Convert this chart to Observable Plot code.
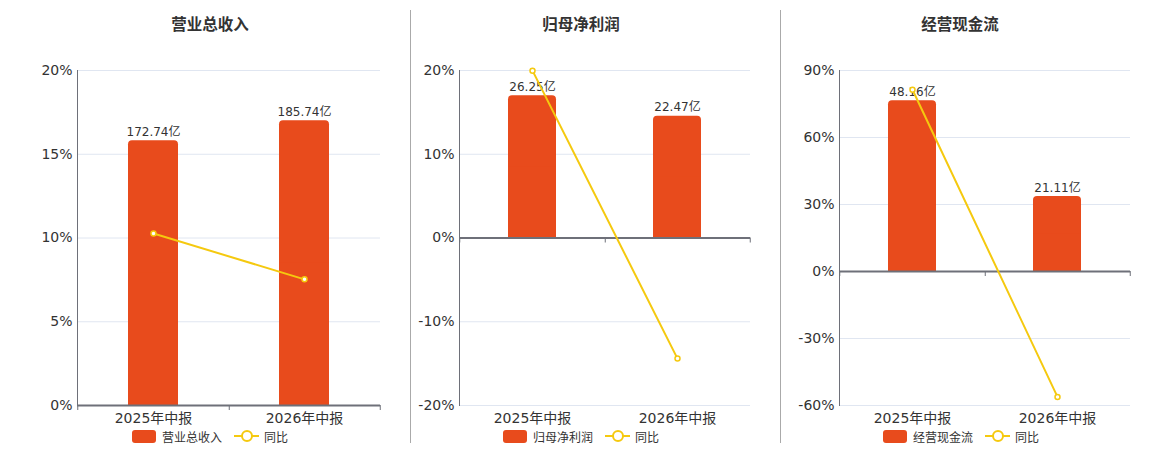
<!DOCTYPE html>
<html>
<head>
<meta charset="utf-8">
<script src="https://cdn.jsdelivr.net/npm/d3@7"></script>
<script src="https://cdn.jsdelivr.net/npm/@observablehq/plot@0.6"></script>
<style>
  html, body { margin: 0; padding: 0; background: #fff; }
  #root { position: relative; width: 1160px; height: 450px; overflow: hidden;
          font-family: "DejaVu Sans", "Noto Sans CJK SC", sans-serif; color: #333; }
  .title { position: absolute; top: 13px; font-weight: bold; font-size: 15.5px; line-height: 20px;
           color: #333; transform: translateX(-50%); white-space: nowrap; font-family: "Noto Sans CJK SC", sans-serif; }
  .sep { position: absolute; top: 10px; width: 1px; height: 433px; background: #aaa; }
  .panel { position: absolute; top: 50px; }
  .legend { position: absolute; top: 428px; height: 16px; display: flex; align-items: center;
            font-size: 12px; color: #333; white-space: nowrap; }
  .sw { width: 24px; height: 13px; border-radius: 3px; background: #E84B1C; margin-right: 6px; }
  .li { position: relative; width: 25px; height: 14px; margin-left: 12px; margin-right: 5px; }
  .li .ln { position: absolute; left: 0; right: 0; top: 6px; height: 2px; background: #F5C90F; }
  .li .ci { position: absolute; left: 6.5px; top: 1px; width: 8px; height: 8px; border: 2px solid #F5C90F;
            border-radius: 50%; background: #fff; }
</style>
</head>
<body>
<div id="root"></div>
<script>
// ---- data ----
const categories = ["2025年中报", "2026年中报"];
const titles = ["营业总收入", "归母净利润", "经营现金流"];
const revenue = [172.74, 185.74];
const revenueYoY = [10.27, 7.53];
const netProfit = [26.25, 22.47];
const netProfitYoY = [19.98, -14.40];
const cashFlow = [48.16, 21.11];
const cashFlowYoY = [81.4, -56.17];
const ticks1 = [0, 5, 10, 15, 20];
const ticks2 = [-20, -10, 0, 10, 20];
const ticks3 = [-60, -30, 0, 30, 60, 90];
const yoyLabel = "同比";

// ---- layout ----
const BAR = "#E84B1C", LINE = "#F5C90F", AXIS = "#6E7079", GRID = "#E0E6F1";
const panels = [
  {title: titles[0], bars: revenue, yoy: revenueYoY, ticks: ticks1, left: 0, width: 410, ml: 77, mr: 30, tx: 210, lx: 132},
  {title: titles[1], bars: netProfit, yoy: netProfitYoY, ticks: ticks2, left: 410, width: 370, ml: 49, mr: 30, tx: 581, lx: 503},
  {title: titles[2], bars: cashFlow, yoy: cashFlowYoY, ticks: ticks3, left: 780, width: 380, ml: 59, mr: 30, tx: 960, lx: 883}
];

const root = document.getElementById("root");
[410.5, 780.5].forEach(x => {
  const s = document.createElement("div"); s.className = "sep"; s.style.left = (x - 0.5) + "px"; root.appendChild(s);
});

panels.forEach(p => {
  const t = document.createElement("div"); t.className = "title"; t.style.left = p.tx + "px"; t.textContent = p.title;
  root.appendChild(t);

  const yMin = p.ticks[0], yMax = p.ticks[p.ticks.length - 1];
  // bars use a hidden secondary axis whose maximum is maxBar / 0.85, mapped onto the percent axis
  const hiddenMax = Math.max(...p.bars) / 0.85;
  const rows = categories.map((c, i) => ({cat: c, v: p.bars[i], bh: p.bars[i] / hiddenMax * yMax, yoy: p.yoy[i]}));
  const W = p.width - p.ml - p.mr;
  const step = W / 2;
  const fmt = d => d + "%";

  const chart = Plot.plot({
    width: p.width, height: 380,
    marginTop: 20, marginBottom: 25, marginLeft: p.ml, marginRight: p.mr,
    style: {fontFamily: '"DejaVu Sans", "Noto Sans CJK SC", sans-serif', fontSize: "14px", color: "#333", background: "transparent", overflow: "visible"},
    x: {domain: categories, paddingInner: 0.67, paddingOuter: 0.335, label: null},
    y: {domain: [yMin, yMax], label: null},
    marks: [
      Plot.gridY(p.ticks, {stroke: GRID, strokeOpacity: 1}),
      Plot.frame({anchor: "left", stroke: AXIS, strokeOpacity: 1}),
      Plot.axisY(p.ticks, {tickSize: 0, tickPadding: 5, tickFormat: fmt, fontSize: 14, label: null}),
      Plot.axisX({tickSize: 0, tickPadding: 8, fontSize: 14, label: null}),
      Plot.barY(rows, {x: "cat", y1: 0, y2: "bh", fill: BAR, rx: 4}),
      Plot.barY(rows, {x: "cat", y1: 0, y2: d => d.bh / 2, fill: BAR}),
      Plot.text(rows, {x: "cat", y: "bh", text: d => d.v.toFixed(2) + "亿", lineAnchor: "bottom", dy: -5, fontSize: 12, fill: "#333"}),
      Plot.ruleY([0], {stroke: AXIS, strokeWidth: 2}),
      Plot.ruleX(categories, {x: d => d, y1: 0, y2: 0, dx: step / 2, insetBottom: -5, stroke: AXIS, strokeWidth: 1}),
      Plot.ruleX(categories.slice(0, 1), {x: d => d, y1: 0, y2: 0, dx: -step / 2, insetBottom: -5, stroke: AXIS, strokeWidth: 1}),
      Plot.line(rows, {x: "cat", y: "yoy", stroke: LINE, strokeWidth: 2}),
      Plot.dot(rows, {x: "cat", y: "yoy", r: 2.5, fill: "#fff", stroke: LINE, strokeWidth: 1.5})
    ]
  });
  chart.classList.add("panel");
  chart.style.left = p.left + "px";
  chart.style.position = "absolute";
  chart.style.top = "50px";
  root.appendChild(chart);

  const lg = document.createElement("div"); lg.className = "legend"; lg.style.left = p.lx + "px";
  lg.innerHTML = `<div class="sw"></div><span>${p.title}</span><div class="li"><div class="ln"></div><div class="ci"></div></div><span>${yoyLabel}</span>`;
  root.appendChild(lg);
});
</script>
</body>
</html>
